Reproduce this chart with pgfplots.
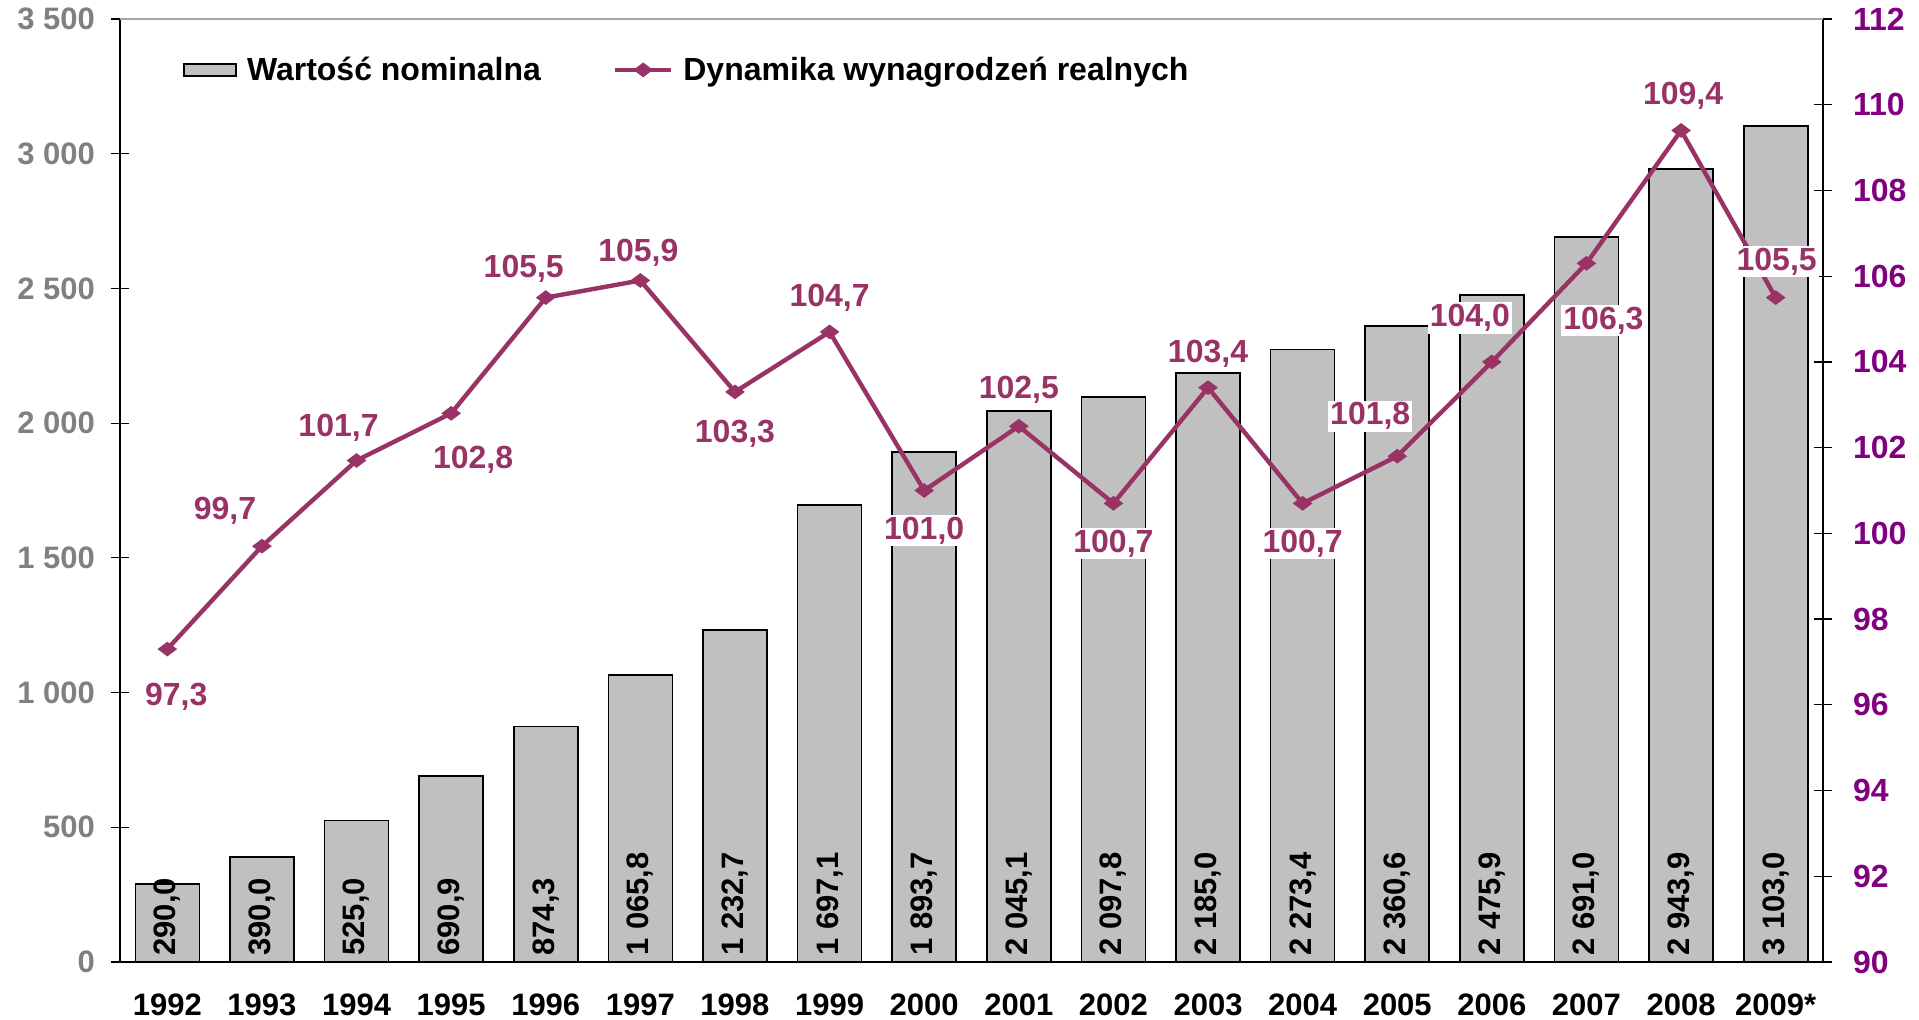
\documentclass[border=0pt]{standalone}
\usepackage{fontspec}
\setmainfont{Liberation Sans}
\usepackage{pgfplots}
\usepackage{pgfplotstable}
\pgfplotsset{compat=1.18}
\pgfkeys{/pgf/number format/.cd, assume math mode=true, 1000 sep={\ }}
\definecolor{barfill}{HTML}{C0C0C0}
\definecolor{linecol}{HTML}{993366}
\definecolor{rightlab}{HTML}{800080}
\definecolor{leftlab}{HTML}{808080}
\definecolor{topline}{HTML}{A6A6A6}
\pgfplotsset{
  barlegend/.style={legend image code/.code={\draw[##1] (0pt,-3pt) rectangle (26pt,3pt);}},
  linelegend/.style={legend image code/.code={\draw[mark repeat=2, mark phase=2, ##1] plot coordinates {(0pt,0pt) (14pt,0pt) (28pt,0pt)};}},
}

\pgfplotstableread{
x v
0 290.0
1 390.0
2 525.0
3 690.9
4 874.3
5 1065.8
6 1232.7
7 1697.1
8 1893.7
9 2045.1
10 2097.8
11 2185.0
12 2273.4
13 2360.6
14 2475.9
15 2691.0
16 2943.9
17 3103.0
}\bars

\pgfplotstableread{
x y dx dy
0 97.3 4.5 -24
1 99.7 -18.5 17.5
2 101.7 -9 16.5
3 102.8 11 -23
4 105.5 -11 14.5
5 105.9 -1 14
6 103.3 0 -21
7 104.7 0 17
8 101.0 0 -20
9 102.5 0 18
10 100.7 0 -20
11 103.4 0 17
12 100.7 0 -20
13 101.8 -13.5 20
14 104.0 -11 22
15 106.3 8.5 -28.5
16 109.4 1 17.5
17 105.5 0.5 18
}\dyn

\begin{document}
\begin{tikzpicture}
\path[use as bounding box] (-60pt,-28.5pt) rectangle (899.5pt,481pt);
\begin{axis}[
  scale only axis, width=851.5pt, height=471.5pt,
  at={(0,0)}, anchor=south west,
  xmin=-0.5, xmax=17.5, ymin=0, ymax=3500,
  axis x line*=bottom, axis y line*=left,
  axis line style={black, line width=0.6pt},
  tick align=center, major tick length=9pt, minor tick length=9pt,
  xtick={0,...,17},
  xticklabels={1992,1993,1994,1995,1996,1997,1998,1999,2000,2001,2002,2003,2004,2005,2006,2007,2008,2009*},
  x tick style={draw=none},
  minor xtick={-0.5,0.5,...,17.5},
  minor x tick style={black, line width=0.6pt},
  xticklabel style={font=\fontsize{15.5}{18}\selectfont\bfseries, text=black, yshift=-8pt},
  ytick={0,500,...,3500},
  y tick style={black, line width=0.6pt},
  yticklabel style={font=\fontsize{15.5}{18}\selectfont\bfseries, text=leftlab, xshift=-4.5pt},
  /pgf/number format/.cd, assume math mode=true, 1000 sep={\ },
]
\addplot[ybar, bar width=32pt, fill=barfill, draw=black, line width=0.8pt] table[x=x, y=v] {\bars};
\addplot[draw=none, mark=none, nodes near coords, point meta=\thisrow{v},
  nodes near coords style={rotate=90, anchor=west, inner sep=3pt,
    font=\fontsize{15.5}{18}\selectfont\bfseries, text=black,
    /pgf/number format/.cd, fixed, fixed zerofill, precision=1, use comma, 1000 sep={\ }, assume math mode=true}]
  table[x=x, y expr=0] {\bars};
\end{axis}
\begin{axis}[
  scale only axis, width=851.5pt, height=471.5pt,
  at={(0,0)}, anchor=south west,
  xmin=-0.5, xmax=17.5, ymin=90, ymax=112,
  axis x line=none, axis y line*=right,
  axis line style={black, line width=0.6pt},
  tick align=center, major tick length=9pt,
  ytick={90,92,94,96,98,100,102,104,106,108,110,112},
  yticklabels={\textbf{90},\textbf{92},\textbf{94},\textbf{96},\textbf{98},\textbf{100},\textbf{102},\textbf{104},\textbf{106},\textbf{108},\textbf{110},\textbf{112}},
  y tick style={black, line width=0.6pt},
  yticklabel style={font=\fontsize{16}{19}\selectfont\bfseries, text=rightlab, xshift=7pt},
  legend columns=2,
  legend style={at={(axis description cs:0.037,0.946)}, anchor=west, draw=none, fill=none,
    font=\fontsize{16}{19}\selectfont\bfseries, inner sep=0pt,
    /tikz/every odd column/.append style={column sep=3pt},
    /tikz/every even column/.append style={column sep=34pt}},
  legend cell align=left,
  /pgf/number format/.cd, assume math mode=true,
]
\draw[topline, line width=0.8pt] (rel axis cs:0,1) -- (rel axis cs:1,1);
\addlegendimage{fill=barfill, draw=black, line width=0.8pt, barlegend}
\addlegendentry{Wartość nominalna}
\addplot[color=linecol, line width=2.2pt, mark=diamond*, mark size=4.5pt,
  mark options={fill=linecol, draw=linecol, line width=0.5pt, rotate=90},
  linelegend,
  nodes near coords, point meta=y,
  visualization depends on={\thisrow{dx} \as \dx},
  visualization depends on={\thisrow{dy} \as \dy},
  nodes near coords style={anchor=center, xshift=\dx pt, yshift=\dy pt, fill=white, inner sep=1pt,
    font=\fontsize{16}{19}\selectfont\bfseries, text=linecol,
    /pgf/number format/.cd, fixed, fixed zerofill, precision=1, use comma, assume math mode=true}]
  table[x=x, y=y] {\dyn};
\addlegendentry{Dynamika wynagrodzeń realnych}
\end{axis}
\end{tikzpicture}
\end{document}
